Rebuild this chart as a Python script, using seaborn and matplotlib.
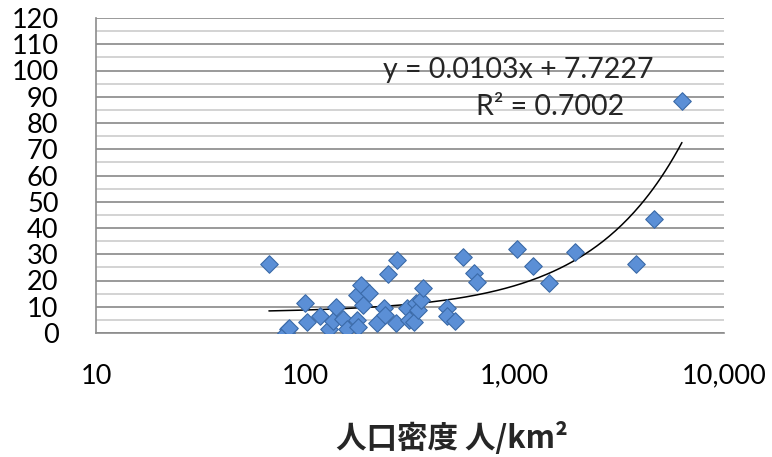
import numpy as np
import pandas as pd
import matplotlib
matplotlib.use("Agg")
import matplotlib.pyplot as plt
import matplotlib.ticker as mticker
import seaborn as sns

# data
density = [67, 83, 81, 84, 100, 102, 118, 130, 135, 140, 152, 159, 177, 178,
           177, 185, 201, 189, 220, 237, 239, 248, 270, 274, 305, 312, 331,
           336, 345, 355, 365, 473, 473, 518, 568, 638, 661, 1030, 1218,
           1466, 1936, 3816, 4643, 6295]
value = [26.3, 1.4, 0.0, 2.0, 11.5, 4.1, 6.5, 1.4, 4.6, 10.0, 5.2, 1.4, 5.0,
         2.2, 14.5, 18.3, 15.1, 10.7, 3.7, 9.4, 6.9, 22.5, 3.7, 27.8, 9.4,
         5.0, 4.3, 11.3, 8.8, 12.6, 17.0, 9.4, 6.5, 4.6, 28.8, 22.7, 19.5,
         31.9, 25.6, 18.9, 30.7, 26.3, 43.4, 88.4]

# linear trendline from the chart label
slope = 0.0103
intercept = 7.7227
r2 = 0.7002

x_ticks = [10, 100, 1000, 10000]
x_tick_labels = ["10", "100", "1,000", "10,000"]
y_ticks = list(range(0, 121, 10))

df = pd.DataFrame({"density": density, "value": value})
xs = np.geomspace(min(density), max(density), 200)
trend = pd.DataFrame({"density": xs, "value": slope * xs + intercept})

sns.set_style("white")
plt.rcParams["font.family"] = ["Lato", "Noto Sans CJK JP", "DejaVu Sans"]

fig = plt.figure(figsize=(7.72, 4.57), dpi=100)
ax = fig.add_axes([96 / 772, 124 / 457, 628 / 772, 315 / 457])

sns.lineplot(data=trend, x="density", y="value", color="black", lw=1.1, ax=ax, zorder=2)
sns.scatterplot(data=df, x="density", y="value", marker="D", s=80,
                color="#5b8fd6", edgecolor="#3b6aa8", linewidth=0.8, ax=ax, zorder=3)

ax.set_xscale("log")
ax.set_xlim(10, 10000)
ax.set_ylim(0, 120)
ax.xaxis.set_major_locator(mticker.FixedLocator(x_ticks))
ax.xaxis.set_major_formatter(mticker.FixedFormatter(x_tick_labels))
ax.xaxis.set_minor_locator(mticker.NullLocator())
ax.set_yticks(y_ticks)
ax.yaxis.set_minor_locator(mticker.MultipleLocator(5))

ax.grid(axis="y", which="major", color="#9a9a9a", lw=1.4)
ax.grid(axis="y", which="minor", color="#c8c8c8", lw=1.1)
ax.set_axisbelow(True)

for side in ["top", "right"]:
    ax.spines[side].set_visible(False)
for side in ["left", "bottom"]:
    ax.spines[side].set_color("#8c8c8c")
    ax.spines[side].set_linewidth(1.2)

ax.tick_params(axis="both", which="major", direction="out", length=7, width=1.2,
               color="#8c8c8c", labelsize=19.5, labelcolor="black")
ax.tick_params(axis="y", which="major", pad=20)
ax.tick_params(axis="x", which="major", pad=15)
ax.tick_params(axis="y", which="minor", length=0)

ax.set_xlabel("")
ax.set_ylabel("")

ax.text(0.457, 0.835, f"y = {slope}x + {intercept}", transform=ax.transAxes,
        fontsize=20.5, ha="left", va="center")
ax.text(0.723, 0.717, f"R² = {r2}", transform=ax.transAxes,
        fontsize=20.5, ha="center", va="center")

fig.text(452 / 772, 1 - 438 / 457, "人口密度 人/km²", fontsize=22,
         fontweight="bold", ha="center", va="center",
         family=["Noto Sans CJK JP", "DejaVu Sans"])

fig.savefig("out.png", dpi=100)
